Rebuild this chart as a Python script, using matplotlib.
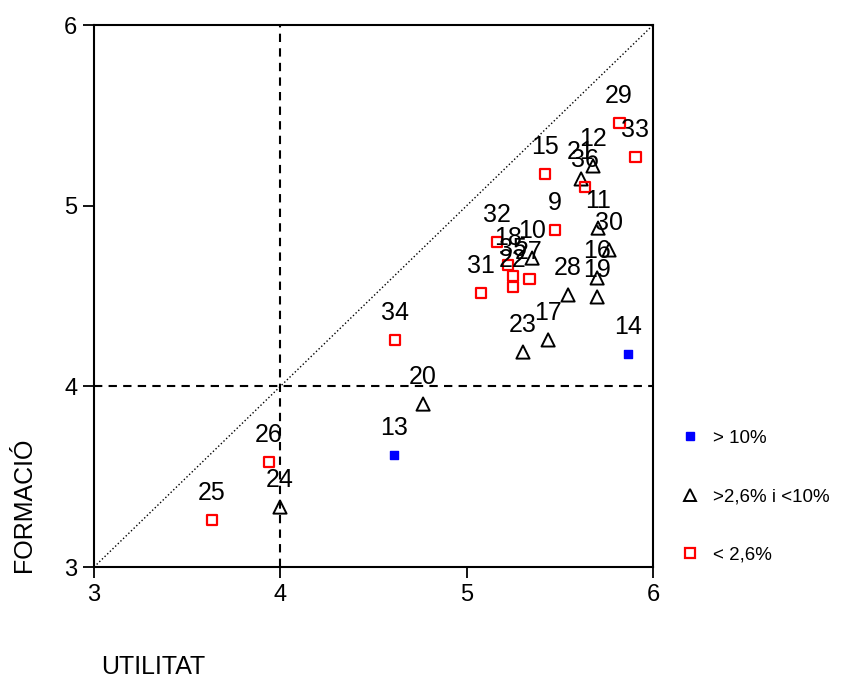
import matplotlib.pyplot as plt
from matplotlib.lines import Line2D

plt.rcParams['font.family'] = ['Liberation Sans', 'DejaVu Sans']

# grup > 10%
alt_id = [14, 13]
alt_x = [5.866, 4.610]
alt_y = [4.179, 3.620]

# grup >2,6% i <10%
mig_id = [12, 21, 11, 30, 16, 19, 28, 17, 23, 20, 24, 10]
mig_x = [5.678, 5.614, 5.705, 5.764, 5.700, 5.700, 5.544, 5.437, 5.302, 4.766, 3.998, 5.351]
mig_y = [5.220, 5.148, 4.876, 4.755, 4.600, 4.495, 4.506, 4.257, 4.190, 3.902, 3.332, 4.710]

# grup < 2,6%
baix_id = [29, 33, 15, 36, 9, 32, 18, 35, 22, 27, 31, 34, 26, 25]
baix_x = [5.818, 5.904, 5.420, 5.635, 5.474, 5.163, 5.222, 5.249, 5.249, 5.335, 5.077, 4.615, 3.939, 3.633]
baix_y = [5.458, 5.269, 5.175, 5.103, 4.865, 4.799, 4.672, 4.611, 4.550, 4.594, 4.517, 4.257, 3.581, 3.260]

fig = plt.figure(figsize=(8.41, 6.82), dpi=100)
ax = fig.add_axes([0.1118, 0.1686, 0.6647, 0.7947])

# linies de referencia
ax.plot([3, 6], [3, 6], color='black', linestyle=':', linewidth=1)
ax.axvline(4, color='black', linestyle=(0, (4, 3)), linewidth=1.5)
ax.axhline(4, color='black', linestyle=(0, (4, 3)), linewidth=1.5)

ax.scatter(alt_x, alt_y, marker='s', s=40, color='#0000ff', edgecolors='#0000ff', zorder=3)
ax.scatter(mig_x, mig_y, marker='^', s=90, facecolors='none', edgecolors='black', linewidths=1.4, zorder=3)
ax.scatter(baix_x, baix_y, marker='s', s=60, facecolors='none', edgecolors='#ff0000', linewidths=1.6, zorder=3)

# etiquetes dels punts
for ids, xs, ys in [(alt_id, alt_x, alt_y), (mig_id, mig_x, mig_y), (baix_id, baix_x, baix_y)]:
    for i, x, y in zip(ids, xs, ys):
        ax.annotate(str(i), (x, y), xytext=(0, 19.5), textcoords='offset points',
                    ha='center', va='center', fontsize=18, zorder=4)

ax.set_xlim(3, 6)
ax.set_ylim(3, 6)
ax.set_xticks([3, 4, 5, 6])
ax.set_yticks([3, 4, 5, 6])
ax.tick_params(axis='both', direction='out', length=8, width=1.3, labelsize=17, pad=4)
for sp in ax.spines.values():
    sp.set_linewidth(1.5)

fig.text(0.028, 0.26, 'FORMACIÓ', rotation=90, ha='center', va='center', fontsize=18)
fig.text(0.182, 0.022, 'UTILITAT', ha='center', va='center', fontsize=18)

handles = [
    Line2D([], [], marker='s', linestyle='none', markersize=6, color='#0000ff'),
    Line2D([], [], marker='^', linestyle='none', markersize=9, markerfacecolor='none',
           markeredgecolor='black', markeredgewidth=1.4),
    Line2D([], [], marker='s', linestyle='none', markersize=7, markerfacecolor='none',
           markeredgecolor='#ff0000', markeredgewidth=1.6),
]
ax.legend(handles, ['> 10%', '>2,6% i <10%', '< 2,6%'], loc='center left',
          bbox_to_anchor=(1.02, 0.13), frameon=False, fontsize=13.5,
          labelspacing=2.2, handlelength=1, handletextpad=0.7)

fig.savefig('out.png', dpi=100)
